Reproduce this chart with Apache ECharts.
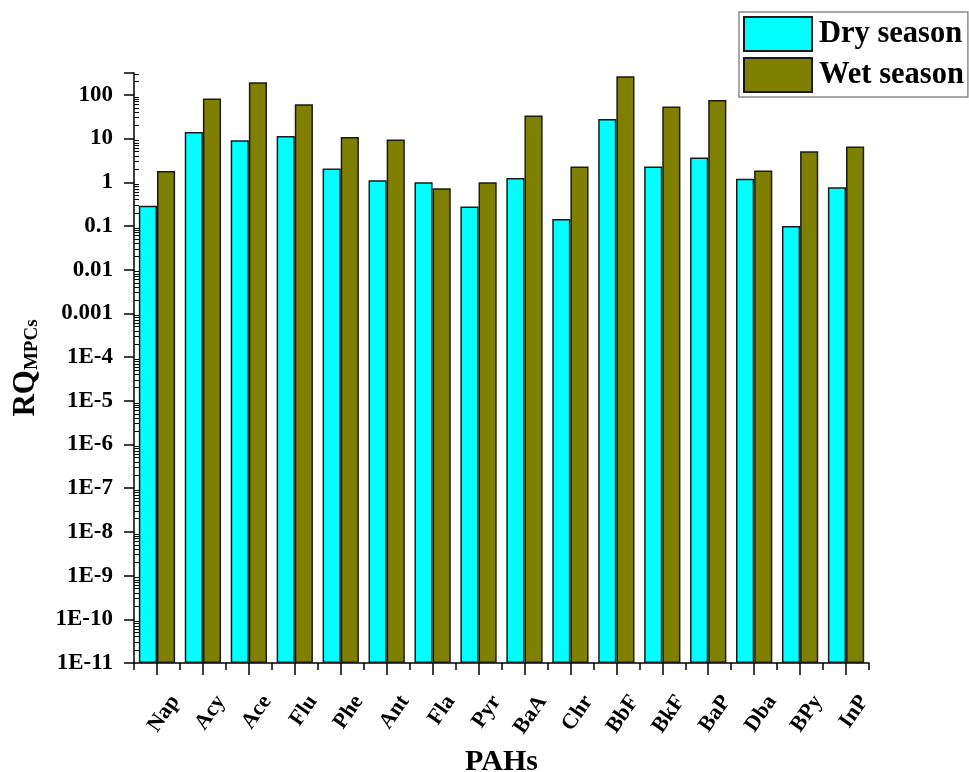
<!DOCTYPE html>
<html>
<head>
<meta charset="utf-8">
<script src="https://cdn.jsdelivr.net/npm/echarts@6/dist/echarts.min.js"></script>
<style>
  html, body { margin: 0; padding: 0; background: #fff; }
  #chart { width: 969px; height: 772px; }
</style>
</head>
<body>
<div id="chart"></div>
<script>
// PAH compounds on the x axis
const pahs = ['Nap', 'Acy', 'Ace', 'Flu', 'Phe', 'Ant', 'Fla', 'Pyr',
              'BaA', 'Chr', 'BbF', 'BkF', 'BaP', 'Dba', 'BPy', 'InP'];

// Risk quotients (RQ based on MPCs) for each season
const drySeason = [0.29, 14.1, 9.1, 11.4, 2.06, 1.11, 1.0, 0.28,
                   1.25, 0.145, 28, 2.29, 3.7, 1.21, 0.10, 0.77];
const wetSeason = [1.8, 82, 194, 61, 10.9, 9.5, 0.73, 1.0,
                   33.5, 2.3, 267, 54, 76, 1.85, 5.1, 6.6];

const seriesNames = ['Dry season', 'Wet season'];

// Log axis range
const yMin = 1e-11;
const yMax = 316.2;

const serif = '"Liberation Serif", "Times New Roman", serif';

const gridLeft = 134;
const gridRight = 100;
const chartWidth = 969;

function logLabel(v) {
  const e = Math.round(Math.log10(v));
  if (Math.abs(Math.log10(v) - e) > 1e-6) return '';
  if (e >= 0) return String(Math.pow(10, e));
  if (e >= -3) return (Math.pow(10, e)).toFixed(-e);
  return '1E' + e;
}

const chart = echarts.init(document.getElementById('chart'), null, { renderer: 'canvas' });

const barBorder = { borderColor: '#1a1a1a', borderWidth: 1.5 };

const logAxisBase = {
  type: 'log',
  logBase: 10,
  min: yMin,
  max: yMax,
  startValue: yMin,
  interval: 1,
  splitLine: { show: false },
  minorSplitLine: { show: false }
};

chart.setOption({
  backgroundColor: '#ffffff',
  animation: false,
  grid: {
    left: gridLeft, right: gridRight, top: 73, bottom: 109,
    containLabel: false,
    outerBoundsMode: 'none'
  },
  legend: {
    data: seriesNames,
    orient: 'vertical',
    left: 739,
    top: 12,
    padding: [4, 4, 4, 4],
    itemGap: 5,
    itemWidth: 68,
    itemHeight: 34,
    borderColor: '#8c8c8c',
    borderWidth: 1.5,
    backgroundColor: '#ffffff',
    icon: 'rect',
    textStyle: {
      fontFamily: serif,
      fontWeight: 'bold',
      fontSize: 30.5,
      color: '#000',
      padding: [0, 0, 0, 2]
    }
  },
  xAxis: [
    {
      type: 'category',
      data: pahs,
      name: 'PAHs',
      nameLocation: 'middle',
      nameGap: 84,
      nameMoveOverlap: false,
      nameTextStyle: { fontFamily: serif, fontWeight: 'bold', fontSize: 30, color: '#000' },
      axisLine: { lineStyle: { color: '#000', width: 1.5 } },
      axisTick: { show: true, alignWithLabel: true, length: 12, lineStyle: { color: '#000', width: 1.5 } },
      axisLabel: {
        rotate: 55,
        interval: 0,
        hideOverlap: false,
        showMinLabel: true,
        showMaxLabel: true,
        margin: 22,
        verticalAlign: 'top',
        lineHeight: 44,
        fontFamily: serif,
        fontWeight: 'bold',
        fontSize: 22,
        color: '#000'
      },
      splitLine: { show: false }
    },
    {
      // shorter ticks on the boundaries between compound groups
      type: 'category',
      data: pahs,
      position: 'bottom',
      axisLine: { show: false },
      axisTick: { show: true, length: 7, lineStyle: { color: '#000', width: 1.5 } },
      axisLabel: { show: false },
      splitLine: { show: false }
    }
  ],
  yAxis: [
    Object.assign({}, logAxisBase, {
      name: '{r|RQ}{s|MPCs}',
      nameLocation: 'middle',
      nameRotate: 90,
      nameGap: 92,
      nameTextStyle: {
        rich: {
          r: { fontFamily: serif, fontWeight: 'bold', fontSize: 31, color: '#000', lineHeight: 32 },
          s: { fontFamily: serif, fontWeight: 'bold', fontSize: 19, color: '#000', verticalAlign: 'bottom', padding: [14, 0, 0, 0] }
        }
      },
      axisLine: { show: true, lineStyle: { color: '#000', width: 1.5 } },
      axisTick: { show: true, length: 10, lineStyle: { color: '#000', width: 1.5 } },
      minorTick: { show: false },
      axisLabel: {
        margin: 21,
        fontFamily: serif,
        fontWeight: 'bold',
        fontSize: 23,
        color: '#000',
        formatter: logLabel
      }
    }),
    Object.assign({}, logAxisBase, {
      // minor ticks along the same log scale, drawn from the left edge into the plot
      position: 'right',
      offset: -(chartWidth - gridLeft - gridRight),
      axisLine: { show: false },
      axisTick: { show: false },
      minorTick: { show: true, splitNumber: 9, length: 5, lineStyle: { color: '#000', width: 1 } },
      axisLabel: { show: false }
    })
  ],
  series: [
    {
      name: seriesNames[0],
      type: 'bar',
      data: drySeason,
      barGap: '0%',
      barCategoryGap: '21%',
      itemStyle: Object.assign({ color: '#00ffff' }, barBorder)
    },
    {
      name: seriesNames[1],
      type: 'bar',
      data: wetSeason,
      barGap: '0%',
      barCategoryGap: '21%',
      itemStyle: Object.assign({ color: '#7f7f00' }, barBorder)
    }
  ]
});
</script>
</body>
</html>
